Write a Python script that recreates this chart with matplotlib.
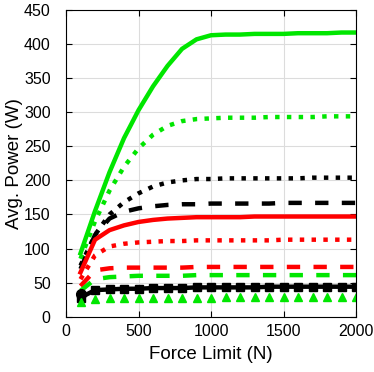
import numpy as np
import matplotlib.pyplot as plt

plt.rcParams['font.family'] = ['Liberation Sans', 'DejaVu Sans']

force = [100, 200, 300, 400, 500, 600, 700, 800, 900, 1000,
         1100, 1200, 1300, 1400, 1500, 1600, 1700, 1800, 1900, 2000]

green_solid = [93, 155, 212, 262, 303, 338, 368, 393, 407, 413,
               414, 414, 415, 415, 415, 416, 416, 416, 417, 417]
green_dot = [85, 140, 185, 220, 247, 267, 280, 287, 290, 291,
             292, 292, 292, 293, 293, 293, 293, 294, 294, 294]
green_dash = [38, 55, 58, 59, 60, 60, 60, 60, 61, 61,
              61, 61, 61, 61, 61, 61, 61, 61, 61, 61]
green_tri = [21, 26, 28, 28, 28, 28, 28, 28, 28, 28,
             29, 29, 29, 29, 29, 29, 29, 29, 29, 29]

black_dot = [75, 120, 150, 168, 181, 191, 197, 200, 202, 202,
             203, 203, 203, 203, 203, 203, 204, 204, 204, 204]
black_dash = [70, 120, 144, 154, 159, 162, 164, 165, 165, 166,
              166, 166, 166, 166, 167, 167, 167, 167, 167, 167]
black_solid = [28, 39, 40, 41, 41, 42, 42, 42, 43, 43,
               43, 43, 43, 44, 44, 44, 44, 44, 44, 44]
black_start = 33

red_solid = [65, 113, 127, 134, 139, 142, 144, 145, 146, 146,
             146, 146, 147, 147, 147, 147, 147, 147, 147, 147]
red_dot = [55, 90, 103, 107, 109, 110, 111, 111, 112, 112,
           112, 112, 112, 112, 113, 113, 113, 113, 113, 113]
red_dash = [45, 68, 71, 72, 72, 72, 72, 72, 73, 73,
            73, 73, 73, 73, 73, 73, 73, 73, 73, 73]

green = '#00e600'
lw = 3.2
dash = (3, 3)

fig = plt.figure(figsize=(3.74, 3.72), dpi=100)
ax = fig.add_axes([0.1765, 0.1487, 0.7754, 0.8243])

ax.plot(force, green_solid, '-', color=green, lw=lw)
ax.plot(force, green_dot, ':', color=green, lw=lw)
ax.plot(force, black_dot, ':', color='black', lw=lw)
ax.plot(force, black_dash, '--', color='black', lw=lw, dashes=dash)
ax.plot(force, red_solid, '-', color='red', lw=lw)
ax.plot(force, red_dot, ':', color='red', lw=lw)
ax.plot(force, red_dash, '--', color='red', lw=lw, dashes=dash)
ax.plot(force, green_dash, '--', color=green, lw=lw, dashes=dash)
ax.plot(force, black_solid, '-s', color='black', lw=lw, markersize=5.5)
ax.plot(force[0], black_start, 'o', color='black', markersize=7)
ax.plot(force, green_tri, '^', color=green, markersize=5.5, linestyle='none')

ax.set_xlim(0, 2000)
ax.set_ylim(0, 450)
ax.set_xticks([0, 500, 1000, 1500, 2000])
ax.set_yticks(np.arange(0, 451, 50))
ax.grid(True, color='#dcdcdc', lw=0.8)
ax.set_axisbelow(True)
ax.tick_params(direction='in', top=True, right=True, labelsize=11.5, length=4)
ax.tick_params(axis='x', pad=5)
ax.tick_params(axis='y', pad=11)
for s in ax.spines.values():
    s.set_linewidth(0.8)
ax.set_xlabel('Force Limit (N)', fontsize=13.5, labelpad=5)
ax.set_ylabel('Avg. Power (W)', fontsize=13.5, labelpad=1)

fig.savefig('out.png', dpi=100)
